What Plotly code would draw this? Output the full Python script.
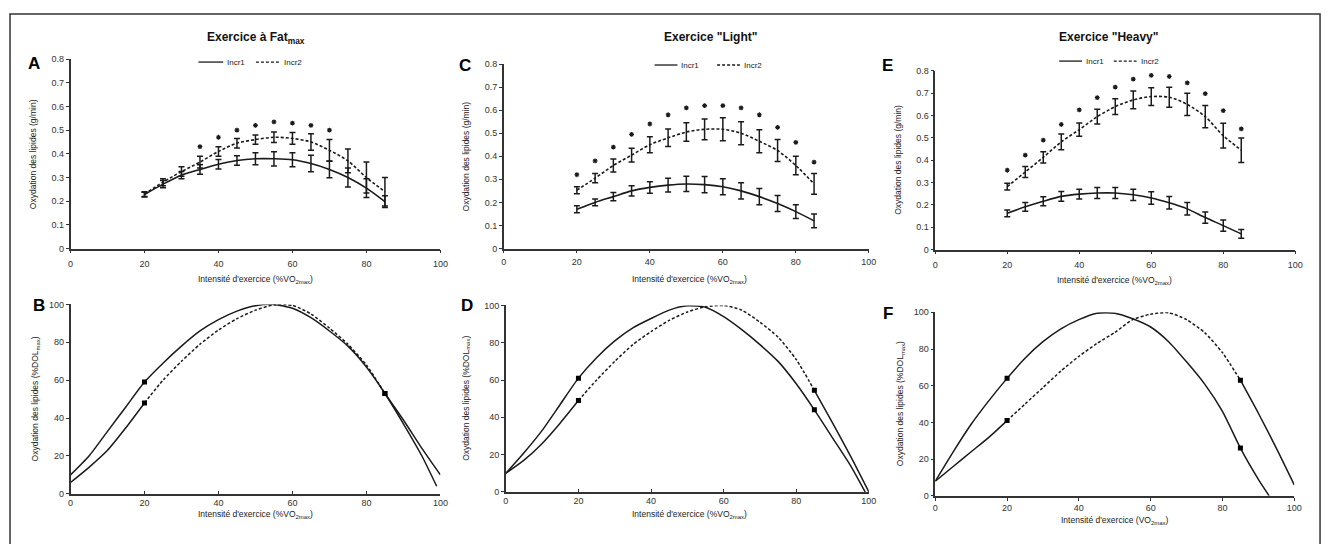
import plotly.graph_objects as go

# page body has an 8px default margin; the figure is sized and positioned to compensate
OFF = 8
W, H = 1333 - OFF, 544 - OFF

# ---------------- data ----------------
X_TOP = [20, 25, 30, 35, 40, 45, 50, 55, 60, 65, 70, 75, 80, 85]

A_INCR1 = [0.228, 0.272, 0.31, 0.334, 0.356, 0.372, 0.379, 0.379, 0.375, 0.359, 0.334, 0.30, 0.255, 0.198]
A_INCR1_ERR = [0.01, 0.015, 0.015, 0.02, 0.02, 0.02, 0.025, 0.03, 0.03, 0.035, 0.035, 0.04, 0.04, 0.025]
A_INCR2 = [0.23, 0.28, 0.325, 0.365, 0.41, 0.445, 0.46, 0.47, 0.465, 0.45, 0.415, 0.37, 0.30, 0.24]
A_INCR2_ERR = [0.01, 0.015, 0.02, 0.025, 0.02, 0.02, 0.02, 0.022, 0.025, 0.035, 0.045, 0.05, 0.065, 0.06]
A_STAR_X = [35, 40, 45, 50, 55, 60, 65, 70]
A_STAR_Y = [0.43, 0.47, 0.50, 0.52, 0.535, 0.53, 0.52, 0.50]

C_INCR1 = [0.17, 0.20, 0.225, 0.25, 0.265, 0.275, 0.28, 0.277, 0.268, 0.25, 0.225, 0.195, 0.16, 0.12]
C_INCR1_ERR = [0.015, 0.015, 0.018, 0.022, 0.025, 0.03, 0.033, 0.035, 0.035, 0.035, 0.035, 0.035, 0.03, 0.03]
C_INCR2 = [0.253, 0.305, 0.36, 0.405, 0.45, 0.48, 0.505, 0.517, 0.517, 0.50, 0.465, 0.425, 0.36, 0.28]
C_INCR2_ERR = [0.015, 0.02, 0.028, 0.03, 0.035, 0.038, 0.04, 0.045, 0.05, 0.05, 0.05, 0.048, 0.04, 0.045]
C_STAR_X = [20, 25, 30, 35, 40, 45, 50, 55, 60, 65, 70, 75, 80, 85]
C_STAR_Y = [0.32, 0.38, 0.44, 0.495, 0.54, 0.58, 0.61, 0.62, 0.62, 0.61, 0.58, 0.525, 0.46, 0.375]

E_INCR1 = [0.162, 0.191, 0.216, 0.238, 0.248, 0.253, 0.253, 0.245, 0.231, 0.209, 0.182, 0.143, 0.107, 0.07]
E_INCR1_ERR = [0.015, 0.02, 0.02, 0.022, 0.022, 0.025, 0.025, 0.025, 0.028, 0.028, 0.028, 0.025, 0.025, 0.02]
E_INCR2 = [0.282, 0.347, 0.413, 0.482, 0.537, 0.595, 0.64, 0.67, 0.685, 0.682, 0.65, 0.595, 0.51, 0.445]
E_INCR2_ERR = [0.015, 0.025, 0.025, 0.035, 0.03, 0.033, 0.035, 0.04, 0.04, 0.045, 0.05, 0.05, 0.055, 0.055]
E_STAR_X = [20, 25, 30, 35, 40, 45, 50, 55, 60, 65, 70, 75, 80, 85]
E_STAR_Y = [0.355, 0.423, 0.49, 0.56, 0.625, 0.68, 0.727, 0.763, 0.78, 0.775, 0.746, 0.698, 0.622, 0.54]

B_INCR1_X = [0, 5, 10, 15, 20, 25, 30, 35, 40, 45, 50, 55, 60, 65, 70, 75, 80, 85, 90, 95, 99]
B_INCR1 = [10, 20, 33, 46, 59, 69, 78, 86, 92, 96.5, 99.3, 100, 98, 93, 86, 78, 67, 53, 37, 20, 4]
B_INCR2_X = [0, 5, 10, 15, 20, 25, 30, 35, 40, 45, 50, 55, 60, 65, 70, 75, 80, 85, 90, 95, 100]
B_INCR2 = [6, 14, 23, 35, 48, 60, 70, 79, 86.5, 92.5, 97, 99.8, 99.5, 95, 87.5, 79, 68, 53, 39, 24, 10]
B_MARK_X = [20, 85]
B_MARK_INCR1 = [59, 53]
B_MARK_INCR2 = [48, 53]

D_INCR1_X = [0, 5, 10, 15, 20, 25, 30, 35, 40, 45, 50, 55, 60, 65, 70, 75, 80, 85, 90, 95, 99]
D_INCR1 = [10, 21, 33, 47, 61, 72, 81, 88, 93, 97.5, 99.8, 99, 94, 87, 79, 70, 58, 44, 29, 14, 0]
D_INCR2_X = [0, 5, 10, 15, 20, 25, 30, 35, 40, 45, 50, 55, 60, 65, 70, 75, 80, 85, 90, 95, 100]
D_INCR2 = [10, 17, 26, 37, 49, 60, 70, 79, 86, 92, 96.5, 99.3, 100, 97.5, 91, 83, 71, 54.5, 37, 19, 0]
D_MARK_X = [20, 85]
D_MARK_INCR1 = [61, 44]
D_MARK_INCR2 = [49, 54.5]

F_INCR1_X = [0, 5, 10, 15, 20, 25, 30, 35, 40, 45, 50, 55, 60, 65, 70, 75, 80, 85, 90, 93]
F_INCR1 = [8, 24, 39, 52, 64, 75, 84, 91, 96, 99.5, 99.5, 96.5, 92, 84, 73, 61, 46, 26, 9, 0]
F_INCR2_X = [0, 5, 10, 15, 20, 25, 30, 35, 40, 45, 50, 55, 60, 65, 70, 75, 80, 85, 90, 95, 100]
F_INCR2 = [8, 16, 24, 32, 41, 50, 59, 68, 76, 83, 89, 96, 99, 99.8, 96, 89, 78, 63, 45, 26, 6]
F_MARK_X = [20, 85]
F_MARK_INCR1 = [64, 26]
F_MARK_INCR2 = [41, 63]

X_TICKS = [0, 20, 40, 60, 80, 100]

# ---------------- styling helpers ----------------
FONT = "Liberation Sans, Arial, sans-serif"
INK = "#1a1a1a"
AX = "#333333"


def px(x):
    return (x - OFF) / W


def py(y):
    return 1 - (y - OFF) / H


fig = go.Figure()

# panel pixel boxes (reference pixels): (x0, x1, ytop, ybottom, ticks, standoff)
boxes = {
    1: (68, 441, 55, 248, "outside", 3),
    2: (505, 873, 60, 248, "outside", 1),
    3: (940, 1303, 67, 249, "outside", 3),
    4: (68, 441, 305, 498, "inside", 0),
    5: (507, 873, 306, 496, "inside", 0),
    6: (940, 1302, 313, 500, "outside", 0),
}

layout_axes = {}
for i, (x0, x1, yt, yb, tk, so) in boxes.items():
    xa = "xaxis" if i == 1 else f"xaxis{i}"
    ya = "yaxis" if i == 1 else f"yaxis{i}"
    yid = "y" if i == 1 else f"y{i}"
    xid = "x" if i == 1 else f"x{i}"
    top = i <= 3
    layout_axes[xa] = dict(
        domain=[px(x0), px(x1)], anchor=yid, range=[0, 100],
        tickvals=X_TICKS, showgrid=False, zeroline=False,
        showline=True, linecolor=AX, linewidth=1.5,
        ticks=tk, ticklen=3, tickcolor=AX, tickwidth=1, ticklabelstandoff=so,
        tickfont=dict(family=FONT, size=9, color="#333"),
    )
    if top:
        ydict = dict(range=[0, 0.8], tickvals=[0, 0.1, 0.2, 0.3, 0.4, 0.5, 0.6, 0.7, 0.8],
                     ticktext=["0", "0.1", "0.2", "0.3", "0.4", "0.5", "0.6", "0.7", "0.8"])
    else:
        ydict = dict(range=[0, 100], tickvals=[0, 20, 40, 60, 80, 100])
    layout_axes[ya] = dict(
        domain=[py(yb), py(yt)], anchor=xid, showgrid=False, zeroline=False,
        showline=True, linecolor=AX, linewidth=1.5,
        ticks="outside", ticklen=3, tickcolor=AX, tickwidth=1,
        tickfont=dict(family=FONT, size=9, color="#333"), **ydict,
    )


def top_panel(i, y1, e1, y2, e2, sx, sy):
    xid = "x" if i == 1 else f"x{i}"
    yid = "y" if i == 1 else f"y{i}"
    for ys, es, dash in ((y1, e1, "solid"), (y2, e2, "3px,2px")):
        fig.add_trace(go.Scatter(
            x=X_TOP, y=ys, mode="lines", xaxis=xid, yaxis=yid,
            line=dict(color=INK, width=1.6, dash=dash, shape="spline", smoothing=0.8),
            error_y=dict(type="data", array=es, visible=True, color=INK, thickness=1.5, width=3),
            showlegend=False, hoverinfo="skip",
        ))
    fig.add_trace(go.Scatter(
        x=sx, y=sy, mode="markers", xaxis=xid, yaxis=yid,
        marker=dict(symbol="asterisk-open", size=4, color=INK, line=dict(color=INK, width=1.2)),
        showlegend=False, hoverinfo="skip",
    ))


def bottom_panel(i, x1, y1, x2, y2, mx, m1, m2):
    xid = f"x{i}"
    yid = f"y{i}"
    fig.add_trace(go.Scatter(
        x=x1, y=y1, mode="lines", xaxis=xid, yaxis=yid,
        line=dict(color=INK, width=1.5, shape="spline", smoothing=0.6),
        showlegend=False, hoverinfo="skip"))
    segs = [
        ([a for a in x2 if a <= 20], "solid"),
        ([a for a in x2 if 20 <= a <= 85], "3px,2px"),
        ([a for a in x2 if a >= 85], "solid"),
    ]
    for xs, dash in segs:
        ys = [y2[x2.index(a)] for a in xs]
        fig.add_trace(go.Scatter(
            x=xs, y=ys, mode="lines", xaxis=xid, yaxis=yid,
            line=dict(color=INK, width=1.5, dash=dash, shape="spline", smoothing=0.6),
            showlegend=False, hoverinfo="skip"))
    for m in (m1, m2):
        fig.add_trace(go.Scatter(
            x=mx, y=m, mode="markers", xaxis=xid, yaxis=yid,
            marker=dict(symbol="square", size=5, color="#000"),
            showlegend=False, hoverinfo="skip"))


top_panel(1, A_INCR1, A_INCR1_ERR, A_INCR2, A_INCR2_ERR, A_STAR_X, A_STAR_Y)
top_panel(2, C_INCR1, C_INCR1_ERR, C_INCR2, C_INCR2_ERR, C_STAR_X, C_STAR_Y)
top_panel(3, E_INCR1, E_INCR1_ERR, E_INCR2, E_INCR2_ERR, E_STAR_X, E_STAR_Y)
bottom_panel(4, B_INCR1_X, B_INCR1, B_INCR2_X, B_INCR2, B_MARK_X, B_MARK_INCR1, B_MARK_INCR2)
bottom_panel(5, D_INCR1_X, D_INCR1, D_INCR2_X, D_INCR2, D_MARK_X, D_MARK_INCR1, D_MARK_INCR2)
bottom_panel(6, F_INCR1_X, F_INCR1, F_INCR2_X, F_INCR2, F_MARK_X, F_MARK_INCR1, F_MARK_INCR2)

annotations = []
shapes = []


def text(x, y, s, size=9, bold=False, angle=0, xanchor="center", color="#222"):
    if bold:
        s = f"<b>{s}</b>"
    annotations.append(dict(
        x=px(x), y=py(y), xref="paper", yref="paper", text=s, showarrow=False,
        textangle=angle, xanchor=xanchor, yanchor="middle",
        font=dict(family=FONT, size=size, color=color)))


# titles
text(255, 33, "Exercice à Fat<sub>max</sub>", size=12, bold=True, color="#111")
text(713, 32, "Exercice \"Light\"", size=12, bold=True, color="#111")
text(1115, 32, "Exercice \"Heavy\"", size=12, bold=True, color="#111")

# panel letters
for (lx, ly, l) in ((31, 59, "A"), (466, 62, "C"), (892, 62, "E"),
                    (36, 306, "B"), (468, 306, "D"), (892, 314, "F")):
    text(lx, ly, l, size=17, bold=True, color="#000")

# y titles
text(30, 152, "Oxydation des lipides (g/min)", size=8.5, angle=-90)
text(467, 154, "Oxydation des lipides (g/min)", size=8.5, angle=-90)
text(903, 158, "Oxydation des lipides (g/min)", size=8.5, angle=-90)
text(33, 401, "Oxydation des lipides (%DOL<sub>max</sub>)", size=8.5, angle=-90)
text(467, 401, "Oxydation des lipides (%DOL<sub>max</sub>)", size=8.5, angle=-90)
text(905, 406, "Oxydation des lipides (%DOL<sub>max</sub>)", size=8.5, angle=-90)

# x titles
text(255, 280, "Intensité d'exercice (%VO<sub>2max</sub>)", size=8.5)
text(692, 280, "Intensité d'exercice (%VO<sub>2max</sub>)", size=8.5)
text(1121, 281, "Intensité d'exercice (%VO<sub>2max</sub>)", size=8.5)
text(255, 519, "Intensité d'exercice (%VO<sub>2max</sub>)", size=8.5)
text(692, 519, "Intensité d'exercice (%VO<sub>2max</sub>)", size=8.5)
text(1121, 525, "Intensité d'exercice (VO<sub>2max</sub>)", size=8.5)

# legends
for (y, s0, s1, t1, d0, d1, t2) in ((58, 197, 222, 224, 255, 279, 281),
                                     (61, 657, 680, 682, 720, 743, 745),
                                     (57, 1065, 1088, 1090, 1120, 1143, 1145)):
    shapes.append(dict(type="line", xref="paper", yref="paper", x0=px(s0), x1=px(s1),
                       y0=py(y), y1=py(y), line=dict(color=INK, width=1.3)))
    shapes.append(dict(type="line", xref="paper", yref="paper", x0=px(d0), x1=px(d1),
                       y0=py(y), y1=py(y), line=dict(color=INK, width=1.3, dash="3px,2px")))
    text(t1, y, "Incr1", size=8, xanchor="left")
    text(t2, y, "Incr2", size=8, xanchor="left")

# outer frame
shapes.append(dict(type="rect", xref="paper", yref="paper", x0=px(7), x1=px(1328),
                   y0=-0.02, y1=py(9), line=dict(color="#333", width=1.5)))

fig.update_layout(
    width=W, height=H, margin=dict(l=0, r=0, t=0, b=0),
    paper_bgcolor="white", plot_bgcolor="white",
    annotations=annotations, shapes=shapes, showlegend=False,
    **layout_axes,
)

fig.write_html("out.html")
